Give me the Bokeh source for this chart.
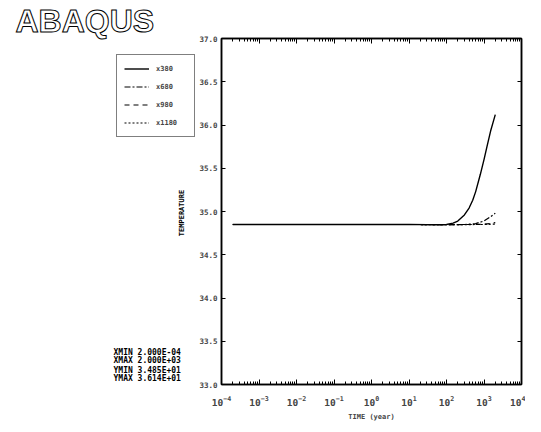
from bokeh.plotting import figure
from bokeh.layouts import row
from bokeh.models import (LogAxis, LinearAxis, Label, Legend, LegendItem,
                          FixedTicker, LogTicker, PrintfTickFormatter,
                          CustomJSTickFormatter, Range1d)
from bokeh.embed import file_html
from bokeh.resources import INLINE

# ---------------- data ----------------
time_x380 = [2e-4, 1e-3, 1e-2, 1e-1, 1, 10, 30, 60, 100, 150, 200, 300, 400,
             500, 600, 800, 1000, 1200, 1500, 1800, 2000]
temp_x380 = [34.85, 34.85, 34.85, 34.85, 34.85, 34.85, 34.848, 34.847, 34.85,
             34.865, 34.89, 34.96, 35.04, 35.13, 35.23, 35.43, 35.60, 35.75,
             35.93, 36.05, 36.12]

time_x680 = [2e-4, 1e-3, 1e-2, 1e-1, 1, 10, 100, 300, 600, 1000, 1500, 2000]
temp_x680 = [34.85, 34.85, 34.85, 34.85, 34.85, 34.85, 34.848, 34.85, 34.86,
             34.89, 34.94, 34.98]

time_x980 = [2e-4, 1e-3, 1e-2, 1e-1, 1, 10, 100, 500, 1000, 1500, 2000]
temp_x980 = [34.85, 34.85, 34.85, 34.85, 34.85, 34.85, 34.848, 34.85, 34.853,
             34.862, 34.872]

time_x1180 = [2e-4, 1e-3, 1e-2, 1e-1, 1, 10, 100, 1000, 2000]
temp_x1180 = [34.85, 34.85, 34.85, 34.85, 34.85, 34.85, 34.848, 34.85, 34.855]

series_names = ["x380", "x680", "x980", "x1180"]
y_ticks = [33.0, 33.5, 34.0, 34.5, 35.0, 35.5, 36.0, 36.5, 37.0]
stat_names = ["XMIN", "XMAX", "YMIN", "YMAX"]
stat_values = ["2.000E-04", "2.000E+03", "3.485E+01", "3.614E+01"]

MONO = "DejaVu Sans Mono"
styles = [("solid", 1.4), ("6 2 2 2", 1.2), ("5 4", 1.2), ("2 2", 1.2)]
data = [(time_x380, temp_x380), (time_x680, temp_x680),
        (time_x980, temp_x980), (time_x1180, temp_x1180)]

H = 424
TOP, BOTTOM = 37, 40

# ---------------- main plot ----------------
p = figure(width=329, height=H, x_axis_type="log",
           x_range=(1e-4, 1e4), y_range=(33.0, 37.0),
           output_backend="svg", toolbar_location=None,
           min_border_left=24, min_border_right=4,
           min_border_top=TOP, min_border_bottom=BOTTOM)
p.xgrid.visible = False
p.ygrid.visible = False
p.outline_line_color = "black"
p.outline_line_width = 1.5

for (t, v), (dash, w) in zip(data, styles):
    p.line(t, v, line_color="black", line_width=w, line_dash=dash)

xa = p.xaxis[0]
xa.ticker = LogTicker(num_minor_ticks=10)
xa.axis_label = "TIME (year)"
xa.axis_label_text_font = MONO
xa.axis_label_text_font_style = "bold"
xa.axis_label_text_font_size = "7px"
xa.axis_label_standoff = 4
xa.major_label_text_font = MONO
xa.major_label_text_font_style = "bold"
xa.major_label_text_font_size = "9.5px"
xa.major_label_standoff = 11
xa.major_tick_in = 5
xa.major_tick_out = 0
xa.minor_tick_in = 3
xa.minor_tick_out = 0
xa.axis_line_width = 1.5

ya = p.yaxis[0]
ya.ticker = FixedTicker(ticks=y_ticks)
ya.formatter = PrintfTickFormatter(format="%.1f")
ya.major_label_text_font = MONO
ya.major_label_text_font_style = "bold"
ya.major_label_text_font_size = "7.5px"
ya.major_label_standoff = 4
ya.major_tick_in = 4
ya.major_tick_out = 0
ya.minor_tick_in = 0
ya.minor_tick_out = 0
ya.axis_line_width = 1.5

blank = CustomJSTickFormatter(code="return '';")

top = LogAxis(ticker=LogTicker(num_minor_ticks=10), formatter=blank)
top.major_label_standoff = 0
top.major_tick_in = 5
top.major_tick_out = 0
top.minor_tick_in = 3
top.minor_tick_out = 0
top.axis_line_width = 1.5
p.add_layout(top, "above")

right = LinearAxis(ticker=FixedTicker(ticks=y_ticks), formatter=blank)
right.major_label_standoff = 0
right.major_tick_in = 4
right.major_tick_out = 0
right.minor_tick_in = 0
right.minor_tick_out = 0
right.axis_line_width = 1.5
p.add_layout(right, "right")

# ---------------- left panel (logo, legend, y label, stats) ----------------
# its frame is aligned with the main frame (page y 37..384)
left = figure(width=196, height=H, x_range=Range1d(0, 196),
              y_range=Range1d(H - BOTTOM, TOP), output_backend="svg",
              toolbar_location=None, x_axis_location=None, y_axis_location=None,
              min_border_left=0, min_border_right=0, min_border_top=TOP,
              min_border_bottom=BOTTOM)
left.grid.visible = False
left.outline_line_color = None

left.title.text = "ABAQUS"
left.title.text_font = "Liberation Sans"
left.title.text_font_style = "bold"
left.title.text_font_size = "32px"
left.title.text_color = "white"
left.title.text_outline_color = "black"
left.title.align = "left"
left.title.offset = 15
left.title.standoff = 0

# legend proxies: the same series, lying outside this panel's ranges
proxies = []
for (t, v), (dash, w) in zip(data, styles):
    proxies.append(left.line(t, v, line_color="black", line_width=w,
                             line_dash=dash))

items = [LegendItem(label=n, renderers=[r]) for n, r in zip(series_names, proxies)]
legend = Legend(items=items, location=(116, (H - BOTTOM) - 137),
                border_line_color="black", border_line_width=1.5,
                padding=7, spacing=5, glyph_width=25, glyph_height=13,
                label_standoff=7, label_width=31,
                label_text_font=MONO, label_text_font_style="bold",
                label_text_font_size="7px", background_fill_alpha=1.0)
left.add_layout(legend)

left.add_layout(Label(x=181, y=212, text="TEMPERATURE", angle=90,
                      angle_units="deg", text_font=MONO,
                      text_font_style="bold", text_font_size="7px",
                      text_color="black", text_baseline="middle",
                      text_align="center"))

stat_y = [352, 360, 370, 378]
for name, val, yy in zip(stat_names, stat_values, stat_y):
    left.add_layout(Label(x=113, y=yy, text=f"{name} {val}", text_font=MONO,
                          text_font_style="bold", text_font_size="8px",
                          text_color="black", text_baseline="middle",
                          text_align="left"))

layout = row(left, p, spacing=0)
open("out.html", "w").write(file_html(layout, INLINE))
